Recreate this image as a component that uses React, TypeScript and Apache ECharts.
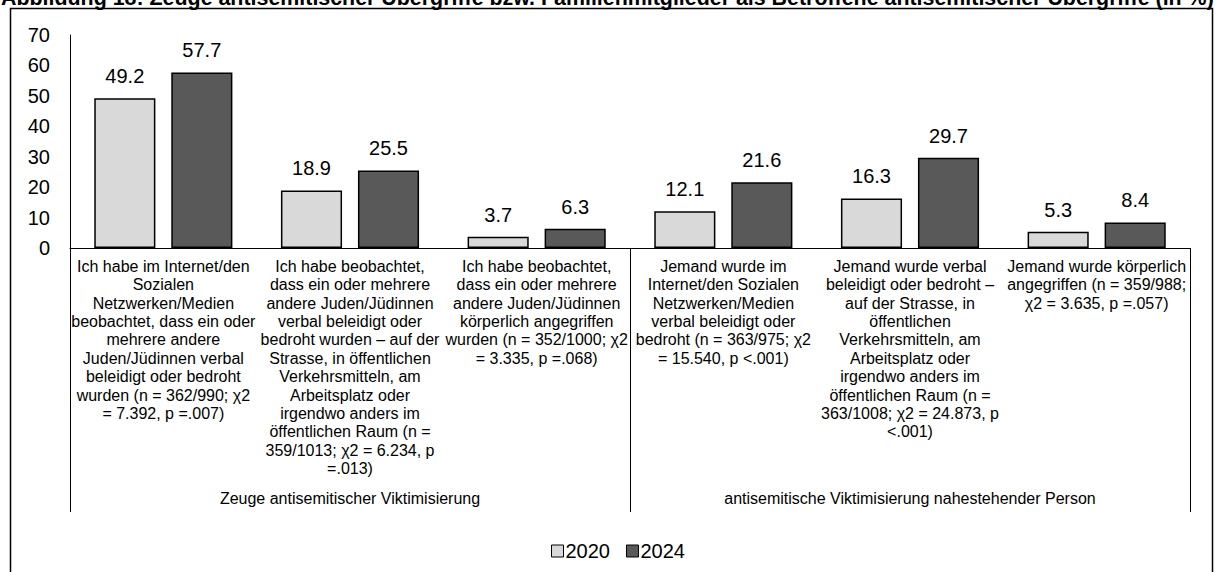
import React, { useEffect, useRef } from "react";
import * as echarts from "echarts";

const W = 1215;
const H = 572;

const titleText =
  "Abbildung 18: Zeuge antisemitischer Übergriffe bzw. Familienmitglieder als Betroffene antisemitischer Übergriffe (in %)";

const categories = [
  "Ich habe im Internet/den\nSozialen\nNetzwerken/Medien\nbeobachtet, dass ein oder\nmehrere andere\nJuden/Jüdinnen verbal\nbeleidigt oder bedroht\nwurden (n = 362/990; χ2\n= 7.392, p =.007)",
  "Ich habe beobachtet,\ndass ein oder mehrere\nandere Juden/Jüdinnen\nverbal beleidigt oder\nbedroht wurden – auf der\nStrasse, in öffentlichen\nVerkehrsmitteln, am\nArbeitsplatz oder\nirgendwo anders im\nöffentlichen Raum (n =\n359/1013; χ2 = 6.234, p\n=.013)",
  "Ich habe beobachtet,\ndass ein oder mehrere\nandere Juden/Jüdinnen\nkörperlich angegriffen\nwurden (n = 352/1000; χ2\n= 3.335, p =.068)",
  "Jemand wurde im\nInternet/den Sozialen\nNetzwerken/Medien\nverbal beleidigt oder\nbedroht (n = 363/975; χ2\n= 15.540, p <.001)",
  "Jemand wurde verbal\nbeleidigt oder bedroht –\nauf der Strasse, in\nöffentlichen\nVerkehrsmitteln, am\nArbeitsplatz oder\nirgendwo anders im\nöffentlichen Raum (n =\n363/1008; χ2 = 24.873, p\n<.001)",
  "Jemand wurde körperlich\nangegriffen (n = 359/988;\nχ2 = 3.635, p =.057)",
];

const groupLabels = [
  "Zeuge antisemitischer Viktimisierung",
  "antisemitische Viktimisierung nahestehender Person",
];
const groupSizes = [3, 3];

const seriesNames = ["2020", "2024"];
const values2020 = [49.2, 18.9, 3.7, 12.1, 16.3, 5.3];
const values2024 = [57.7, 25.5, 6.3, 21.6, 29.7, 8.4];
const seriesColors = ["#d9d9d9", "#595959"];

const yMin = 0;
const yMax = 70;
const yInterval = 10;

const FONT = "'Liberation Sans', Arial, Helvetica, sans-serif";

export default function App() {
  const ref = useRef<HTMLDivElement>(null);

  useEffect(() => {
    if (!ref.current) return;
    const chart = echarts.init(ref.current, null, { renderer: "svg" });

    const gridLeft = 70;
    const gridRight = 25;
    const gridTop = 35;
    const gridBottom = 324;
    const plotRight = W - gridRight;
    const axisY = H - gridBottom;
    const catW = (plotRight - gridLeft) / categories.length;
    const groupLineBottom = 512;
    const groupLabelY = 498;

    const graphics: any[] = [];
    graphics.push({
      type: "rect",
      silent: true,
      shape: { x: 10.5, y: 8.5, width: 1202, height: 620 },
      style: { fill: "none", stroke: "#000", lineWidth: 1.5 },
    });
    graphics.push({
      type: "text",
      silent: true,
      x: 1,
      y: -2,
      style: {
        text: titleText,
        fontFamily: FONT,
        fontWeight: "bold",
        fontSize: 21.4,
        fill: "#000",
        align: "left",
        verticalAlign: "middle",
      },
    });

    let start = 0;
    const boundaries = [0];
    groupSizes.forEach((s) => {
      start += s;
      boundaries.push(start);
    });
    boundaries.forEach((b) => {
      const x = Math.round(gridLeft + b * catW) + 0.5;
      graphics.push({
        type: "line",
        silent: true,
        shape: { x1: x, y1: axisY, x2: x, y2: groupLineBottom },
        style: { stroke: "#000", lineWidth: 1 },
      });
    });
    let acc = 0;
    groupLabels.forEach((g, i) => {
      const cx = gridLeft + (acc + groupSizes[i] / 2) * catW;
      acc += groupSizes[i];
      graphics.push({
        type: "text",
        silent: true,
        x: cx,
        y: groupLabelY,
        style: {
          text: g,
          fontFamily: FONT,
          fontSize: 16,
          fill: "#000",
          align: "center",
          verticalAlign: "middle",
        },
      });
    });

    const labelCfg = {
      show: true,
      position: "top",
      distance: 12,
      fontFamily: FONT,
      fontSize: 20,
      color: "#000",
      formatter: (p: any) => Number(p.value).toFixed(1),
    };

    chart.setOption({
      animation: false,
      backgroundColor: "#fff",
      textStyle: { fontFamily: FONT },
      grid: {
        left: gridLeft,
        right: gridRight,
        top: gridTop,
        bottom: gridBottom,
        containLabel: false,
        outerBoundsMode: "none",
      },
      legend: {
        show: true,
        left: 546,
        top: 536,
        icon: "rect",
        itemWidth: 12,
        itemHeight: 12,
        itemGap: 16,
        textStyle: { fontFamily: FONT, fontSize: 20, color: "#000", padding: [0, 0, 0, -3] },
        itemStyle: { borderColor: "#000", borderWidth: 1 },
        data: seriesNames,
      },
      xAxis: {
        type: "category",
        data: categories,
        axisLine: { show: true, lineStyle: { color: "#000", width: 1 } },
        axisTick: { show: false },
        axisLabel: {
          interval: 0,
          margin: 9,
          fontFamily: FONT,
          fontSize: 16,
          lineHeight: 18.4,
          color: "#000",
          align: "center",
        },
        splitLine: { show: false },
      },
      yAxis: {
        type: "value",
        min: yMin,
        max: yMax,
        interval: yInterval,
        axisLine: { show: true, lineStyle: { color: "#000", width: 1 } },
        axisTick: { show: false },
        splitLine: { show: false },
        axisLabel: { margin: 20, fontFamily: FONT, fontSize: 20, color: "#000" },
      },
      series: [
        {
          name: seriesNames[0],
          type: "bar",
          data: values2020,
          barGap: "26%",
          barCategoryGap: "26%",
          itemStyle: { color: seriesColors[0], borderColor: "#000", borderWidth: 1.5 },
          label: labelCfg,
        },
        {
          name: seriesNames[1],
          type: "bar",
          data: values2024,
          barGap: "26%",
          barCategoryGap: "26%",
          itemStyle: { color: seriesColors[1], borderColor: "#000", borderWidth: 1.5 },
          label: labelCfg,
        },
      ],
      graphic: graphics,
    });

    return () => chart.dispose();
  }, []);

  return (
    <div
      ref={ref}
      style={{ position: "absolute", left: 0, top: 0, width: W, height: H, background: "#fff" }}
    />
  );
}
